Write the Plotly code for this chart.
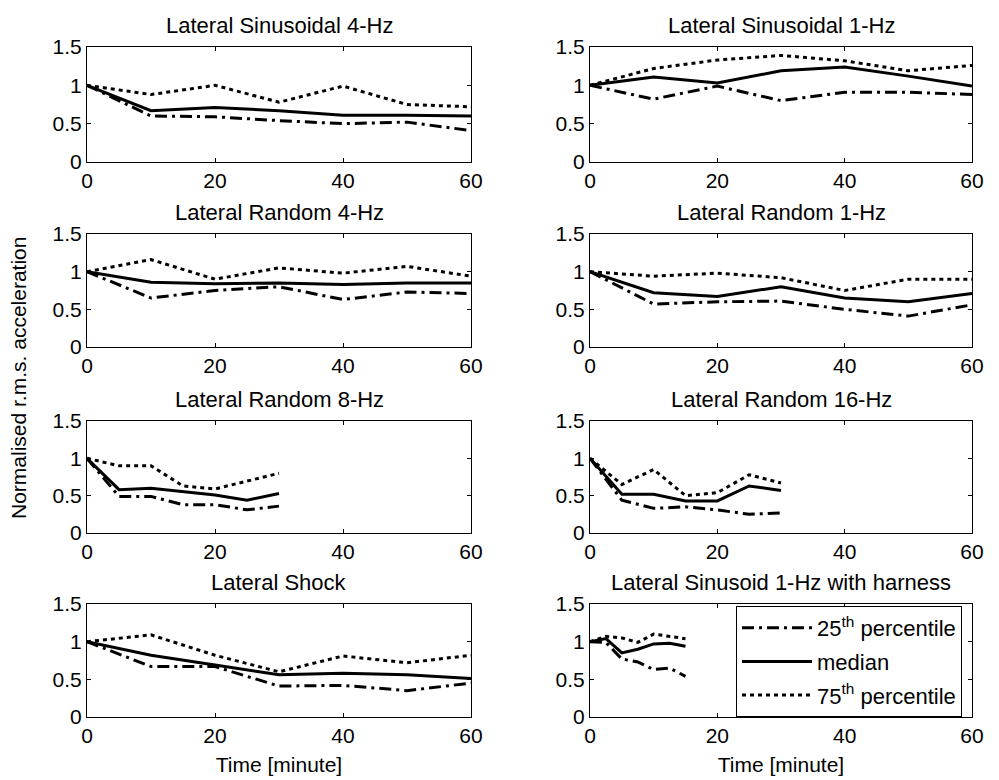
import plotly.graph_objects as go

# ---------------- data ----------------
t60 = [0, 10, 20, 30, 40, 50, 60]
t30 = [0, 5, 10, 15, 20, 25, 30]
t15 = [0, 2.5, 5, 7.5, 10, 12.5, 15]

titles = [
    "Lateral Sinusoidal 4-Hz", "Lateral Sinusoidal 1-Hz",
    "Lateral Random 4-Hz", "Lateral Random 1-Hz",
    "Lateral Random 8-Hz", "Lateral Random 16-Hz",
    "Lateral Shock", "Lateral Sinusoid 1-Hz with harness",
]

# Lateral Sinusoidal 4-Hz
p25_sin4 = [1.0, 0.60, 0.59, 0.54, 0.50, 0.52, 0.41]
med_sin4 = [1.0, 0.67, 0.71, 0.67, 0.61, 0.61, 0.60]
p75_sin4 = [1.0, 0.88, 1.00, 0.78, 0.99, 0.75, 0.72]
# Lateral Sinusoidal 1-Hz
p25_sin1 = [1.0, 0.82, 0.99, 0.80, 0.91, 0.91, 0.88]
med_sin1 = [1.0, 1.11, 1.03, 1.19, 1.24, 1.12, 0.99]
p75_sin1 = [1.0, 1.22, 1.33, 1.39, 1.32, 1.19, 1.26]
# Lateral Random 4-Hz
p25_rnd4 = [1.0, 0.65, 0.75, 0.80, 0.63, 0.73, 0.71]
med_rnd4 = [1.0, 0.86, 0.84, 0.85, 0.83, 0.85, 0.85]
p75_rnd4 = [1.0, 1.16, 0.90, 1.05, 0.98, 1.07, 0.94]
# Lateral Random 1-Hz
p25_rnd1 = [1.0, 0.57, 0.60, 0.61, 0.50, 0.41, 0.56]
med_rnd1 = [1.0, 0.72, 0.67, 0.80, 0.65, 0.60, 0.71]
p75_rnd1 = [1.0, 0.94, 0.98, 0.92, 0.75, 0.90, 0.90]
# Lateral Random 8-Hz
p25_rnd8 = [1.0, 0.49, 0.49, 0.38, 0.38, 0.31, 0.36]
med_rnd8 = [1.0, 0.58, 0.60, 0.55, 0.51, 0.44, 0.53]
p75_rnd8 = [1.0, 0.90, 0.90, 0.63, 0.59, 0.69, 0.80]
# Lateral Random 16-Hz
p25_rnd16 = [1.0, 0.44, 0.33, 0.35, 0.31, 0.25, 0.27]
med_rnd16 = [1.0, 0.52, 0.52, 0.43, 0.43, 0.63, 0.57]
p75_rnd16 = [1.0, 0.65, 0.85, 0.50, 0.54, 0.78, 0.67]
# Lateral Shock
p25_shock = [1.0, 0.67, 0.67, 0.41, 0.42, 0.35, 0.45]
med_shock = [1.0, 0.82, 0.69, 0.56, 0.58, 0.56, 0.51]
p75_shock = [1.0, 1.09, 0.82, 0.60, 0.81, 0.72, 0.82]
# Lateral Sinusoid 1-Hz with harness
p25_harn = [1.0, 0.99, 0.77, 0.73, 0.63, 0.65, 0.54]
med_harn = [1.0, 1.04, 0.85, 0.90, 0.97, 0.98, 0.94]
p75_harn = [1.0, 1.07, 1.05, 0.99, 1.10, 1.07, 1.04]

panels = [
    (t60, p25_sin4, med_sin4, p75_sin4),
    (t60, p25_sin1, med_sin1, p75_sin1),
    (t60, p25_rnd4, med_rnd4, p75_rnd4),
    (t60, p25_rnd1, med_rnd1, p75_rnd1),
    (t30, p25_rnd8, med_rnd8, p75_rnd8),
    (t30, p25_rnd16, med_rnd16, p75_rnd16),
    (t60, p25_shock, med_shock, p75_shock),
    (t15, p25_harn, med_harn, p75_harn),
]

series_names = ["25<sup>th</sup> percentile", "median", "75<sup>th</sup> percentile"]
x_ticks = [0, 20, 40, 60]
y_ticks = [0, 0.5, 1, 1.5]
y_tick_text = ["0", "0.5", "1", "1.5"]

# ---------------- layout ----------------
W, H = 999, 780
FONT = "Liberation Sans, Arial, sans-serif"
FS = 21
FS_TITLE = 22

col_px = [(87, 471), (590, 972)]
row_px = [(47, 162), (234, 347), (421, 533), (604, 717)]

dashes = ["12px,5px,3px,5px", "solid", "4px,4px"]

fig = go.Figure()
for i, (t, a, m, b) in enumerate(panels):
    r, c = divmod(i, 2)
    n = i + 1
    xa = "x" if n == 1 else f"x{n}"
    ya = "y" if n == 1 else f"y{n}"
    for k, vals in enumerate([a, m, b]):
        fig.add_trace(go.Scatter(
            x=t, y=vals, mode="lines", xaxis=xa, yaxis=ya,
            line=dict(color="black", width=3, dash=dashes[k]),
            name=series_names[k], legendgroup=str(k), showlegend=(i == 7),
        ))
    x0, x1 = col_px[c]
    y0, y1 = row_px[r]
    axcommon = dict(showline=True, linecolor="black", linewidth=1, mirror="allticks",
                    ticks="inside", ticklen=4, tickcolor="black", showgrid=False,
                    zeroline=False, automargin=False,
                    tickfont=dict(family=FONT, size=FS, color="black"))
    xkw = dict(axcommon, domain=[x0 / W, x1 / W], range=[0, 60], tickvals=x_ticks,
               anchor=ya)
    if r == 3:
        xkw["title"] = dict(text="Time [minute]",
                            font=dict(family=FONT, size=FS, color="black"),
                            standoff=11)
    ykw = dict(axcommon, domain=[1 - y1 / H, 1 - y0 / H], range=[0, 1.5],
               tickvals=y_ticks, ticktext=y_tick_text, anchor=xa)
    fig.update_layout(**{("xaxis" if n == 1 else f"xaxis{n}"): xkw,
                         ("yaxis" if n == 1 else f"yaxis{n}"): ykw})
    fig.add_annotation(text=titles[i], xref=f"{xa} domain", yref=f"{ya} domain",
                       x=0.5, y=1, xanchor="center", yanchor="bottom", yshift=7,
                       showarrow=False, font=dict(family=FONT, size=FS_TITLE, color="black"))

fig.add_annotation(text="Normalised r.m.s. acceleration", xref="paper", yref="paper",
                   x=18 / W, y=1 - 378 / H, textangle=-90, showarrow=False,
                   xanchor="center", yanchor="middle",
                   font=dict(family=FONT, size=21, color="black"))

fig.update_layout(
    width=W, height=H, margin=dict(l=0, r=0, t=0, b=0, autoexpand=False),
    paper_bgcolor="white", plot_bgcolor="white",
    font=dict(family=FONT, size=FS, color="black"),
    legend=dict(x=736 / W, y=1 - 606 / H, xanchor="left", yanchor="top",
                bgcolor="white", bordercolor="black", borderwidth=1,
                font=dict(family=FONT, size=FS_TITLE, color="black"),
                itemwidth=70, tracegroupgap=2, traceorder="grouped"),
)

fig.write_html("out.html")
